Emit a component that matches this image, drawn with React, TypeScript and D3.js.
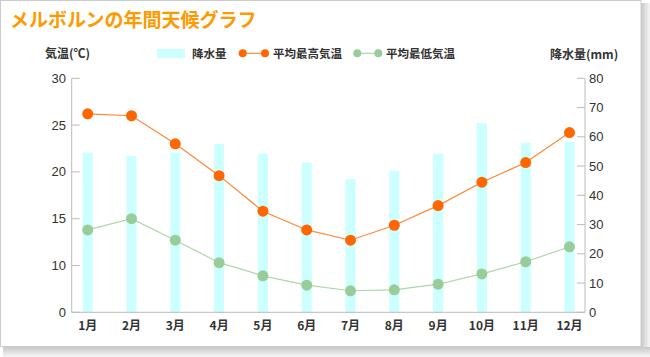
import React from "react";
import * as d3 from "d3";

const months = ["1月","2月","3月","4月","5月","6月","7月","8月","9月","10月","11月","12月"];
const precipitation = [54.6, 53.4, 54.6, 57.5, 54.2, 51.2, 45.6, 48.4, 54.2, 64.7, 58.0, 58.3];
const maxTemp = [26.2, 26.0, 23.0, 19.6, 15.8, 13.8, 12.7, 14.3, 16.4, 18.9, 21.0, 24.2];
const minTemp = [13.8, 15.0, 12.7, 10.3, 7.8, 5.8, 4.6, 4.8, 6.0, 8.2, 10.4, 12.0];
const tempTicks = [0, 10, 15, 20, 25, 30];
const precipTicks = [0, 10, 20, 30, 40, 50, 60, 70, 80];

const FONT = "Arial, 'Liberation Sans', 'Noto Sans CJK JP', sans-serif";
const JP = "'Noto Sans CJK JP', sans-serif";

export default function App() {
  const W = 650, H = 357;
  const top = 78.3, bottom = 312.3, left = 71.7, right = 585;
  const x = d3.scalePoint<string>().domain(months).range([87.7, 569.5]);
  const yT = d3.scaleLinear().domain([0, 10, 30]).range([bottom, bottom - (bottom - top) / 5, top]);
  const yP = d3.scaleLinear().domain([0, 80]).range([bottom, top]);
  const line = (vals: number[]) =>
    d3.line<number>().x((_, i) => x(months[i])!).y((d) => yT(d))(vals) || "";
  const barW = 10;
  const axisColor = "#bbbbbb";
  const txt = "#333333";

  return (
    <svg width={W} height={H} style={{ position: "absolute", left: 0, top: 0 }}>
      <defs>
        <linearGradient id="shR" x1="0" x2="1" y1="0" y2="0">
          <stop offset="0" stopColor="#c8c8c8" />
          <stop offset="1" stopColor="#f6f6f6" />
        </linearGradient>
        <linearGradient id="shB" x1="0" x2="0" y1="0" y2="1">
          <stop offset="0" stopColor="#c8c8c8" />
          <stop offset="1" stopColor="#f6f6f6" />
        </linearGradient>
      </defs>
      <rect x={0} y={0} width={W} height={H} fill="#ffffff" />
      <rect x={641} y={3} width={9} height={352} fill="url(#shR)" />
      <rect x={3} y={347} width={647} height={10} fill="url(#shB)" />
      <rect x={0.5} y={0.5} width={640.5} height={346} fill="#ffffff" stroke="#cccccc" />

      <text x={10} y={27} fill="#ff9900" fontSize={19} fontWeight="bold" fontFamily={JP}>
        メルボルンの年間天候グラフ
      </text>

      {/* legend */}
      <rect x={157} y={49} width={28} height={9} fill="#ccffff" />
      <text x={192} y={57.5} fontSize={11.5} fontWeight="bold" fill={txt} fontFamily={JP}>降水量</text>
      <line x1={242.7} x2={265} y1={53.3} y2={53.3} stroke="#ff7722" strokeWidth={1} />
      <circle cx={242.7} cy={53.3} r={4} fill="#ff6600" />
      <circle cx={265} cy={53.3} r={4} fill="#ff6600" />
      <text x={273} y={57.5} fontSize={11.5} fontWeight="bold" fill={txt} fontFamily={JP}>平均最高気温</text>
      <line x1={357.3} x2={378.3} y1={53.3} y2={53.3} stroke="#99cc99" strokeWidth={1} />
      <circle cx={357.3} cy={53.3} r={4} fill="#99cc99" />
      <circle cx={378.3} cy={53.3} r={4} fill="#99cc99" />
      <text x={386} y={57.5} fontSize={11.5} fontWeight="bold" fill={txt} fontFamily={JP}>平均最低気温</text>

      <text x={45} y={57.5} fontSize={12} fontWeight="bold" fill={txt} fontFamily={JP}>気温(℃)</text>
      <text x={550} y={59} fontSize={12} fontWeight="bold" fill={txt} fontFamily={JP}>降水量(mm)</text>

      {/* bars */}
      {precipitation.map((p, i) => (
        <rect key={"b" + i} x={x(months[i])! - barW / 2} y={yP(p)} width={barW} height={bottom - yP(p)} fill="#ccffff" />
      ))}

      {/* axes */}
      <line x1={left} x2={left} y1={top} y2={bottom} stroke={axisColor} />
      <line x1={right} x2={right} y1={top} y2={bottom} stroke={axisColor} />
      <line x1={left} x2={right} y1={bottom} y2={bottom} stroke={axisColor} />
      {tempTicks.map((t) => (
        <g key={"lt" + t}>
          <line x1={left} x2={left + 8} y1={yT(t)} y2={yT(t)} stroke={axisColor} />
          <text x={66} y={yT(t) + 4.5} textAnchor="end" fontSize={13} fill={txt} fontFamily={FONT}>{t}</text>
        </g>
      ))}
      {precipTicks.map((p) => (
        <g key={"rt" + p}>
          <line x1={right - 8} x2={right} y1={yP(p)} y2={yP(p)} stroke={axisColor} />
          <text x={589} y={yP(p) + 4.5} textAnchor="start" fontSize={13} fill={txt} fontFamily={FONT}>{p}</text>
        </g>
      ))}
      {months.map((m) => (
        <text key={m} x={x(m)} y={330} textAnchor="middle" fontSize={12} fontWeight="bold" fill={txt} fontFamily={JP}>{m}</text>
      ))}

      {/* lines */}
      <path d={line(maxTemp)} fill="none" stroke="#ff8833" strokeWidth={1.2} />
      <path d={line(minTemp)} fill="none" stroke="#aad8aa" strokeWidth={1.2} />
      {maxTemp.map((t, i) => (
        <circle key={"mx" + i} cx={x(months[i])} cy={yT(t)} r={5.5} fill="#ff6600" />
      ))}
      {minTemp.map((t, i) => (
        <circle key={"mn" + i} cx={x(months[i])} cy={yT(t)} r={5.5} fill="#99cc99" />
      ))}
    </svg>
  );
}
